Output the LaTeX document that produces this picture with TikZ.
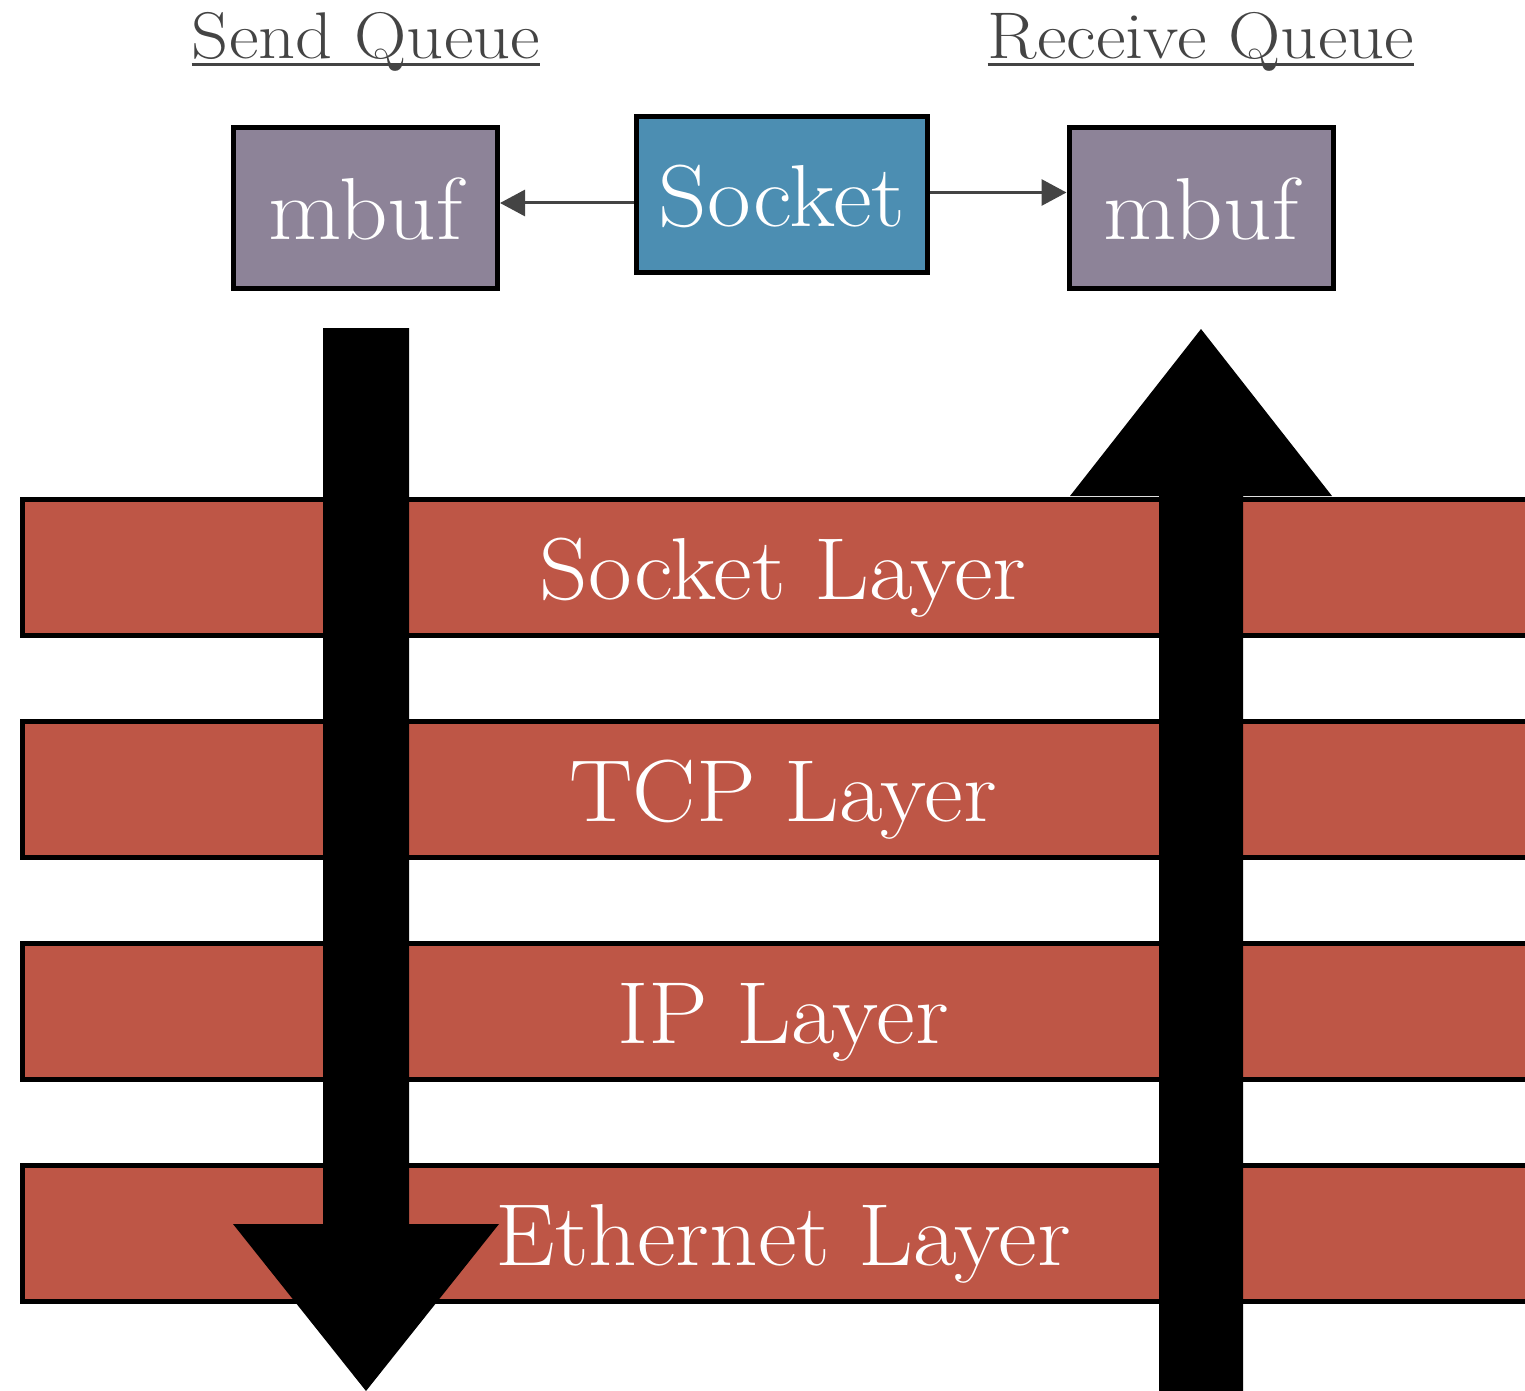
\documentclass[tikz,border=0pt]{standalone}
\usetikzlibrary{arrows.meta}
\definecolor{mbufc}{RGB}{141,131,152}
\definecolor{sockc}{RGB}{76,142,178}
\definecolor{layerc}{RGB}{190,86,70}
\definecolor{connc}{RGB}{68,68,68}
\newcommand{\wtext}[1]{\scalebox{1.08}[1]{\textcolor{white}{#1}}}
\newcommand{\ttext}[1]{\scalebox{1.1}[1]{#1}}
\begin{document}
\begin{tikzpicture}[x=0.5pt,y=-0.5pt,
  bigtxt/.style={font=\fontsize{44}{50}\selectfont, text height=32pt, text depth=0pt},
  box/.style={draw=black, line width=2.5pt, inner sep=0pt, bigtxt},
  mbufbox/.style={box, fill=mbufc, minimum width=132pt, minimum height=80.5pt},
  sockbox/.style={box, fill=sockc, minimum width=145.5pt, minimum height=78pt},
  band/.style={draw=black, line width=2.5pt, fill=layerc, minimum width=760.5pt, minimum height=68pt, inner sep=0pt, bigtxt},
  conn/.style={draw=connc, line width=1.5pt, -{Triangle[length=12.5pt,width=13pt]}},
  title/.style={font=\fontsize{33}{38}\selectfont, text=connc, inner sep=0pt, anchor=base},
  uline/.style={draw=connc, line width=1.5pt},
  bigarrow/.style={fill=black}
]
\useasboundingbox (0,0) rectangle (1525,1391);

% titles
\node[title] (sq) at (366,59) {\ttext{Send Queue}};
\node[title] (rq) at (1201,59) {\ttext{Receive Queue}};
\draw[uline] ([yshift=-3pt]sq.base west) -- ([yshift=-3pt]sq.base east);
\draw[uline] ([yshift=-3pt]rq.base west) -- ([yshift=-3pt]rq.base east);

% top boxes
\node[mbufbox] (mbL) at (365.5,208) {\wtext{mbuf}};
\node[sockbox] (sock) at (782,194.5) {\wtext{Socket}};
\node[mbufbox] (mbR) at (1201,208) {\wtext{mbuf}};
\draw[conn] ([yshift=-4.25pt]sock.west) -- ([yshift=-4.25pt]sock.west -| mbL.east);
\draw[conn] ([yshift=1pt]sock.east) -- ([yshift=1pt]sock.east -| mbR.west);

% layer bands
\node[band] (sl) at (783,567.5) {\wtext{Socket Layer}};
\node[band] (tl) at (783,789.5) {\wtext{TCP Layer}};
\node[band] (il) at (783,1011) {\wtext{IP Layer}};
\node[band] (el) at (783,1233.5) {\wtext{Ethernet Layer}};

% big arrows
\fill[bigarrow] (323,328) -- (409,328) -- (409,1224) -- (499,1224) -- (366,1391)
  -- (233,1224) -- (323,1224) -- cycle;
\fill[bigarrow] (1159,1395) -- (1159,496) -- (1070,496) -- (1201,329)
  -- (1332,496) -- (1243,496) -- (1243,1395) -- cycle;
\end{tikzpicture}
\end{document}
